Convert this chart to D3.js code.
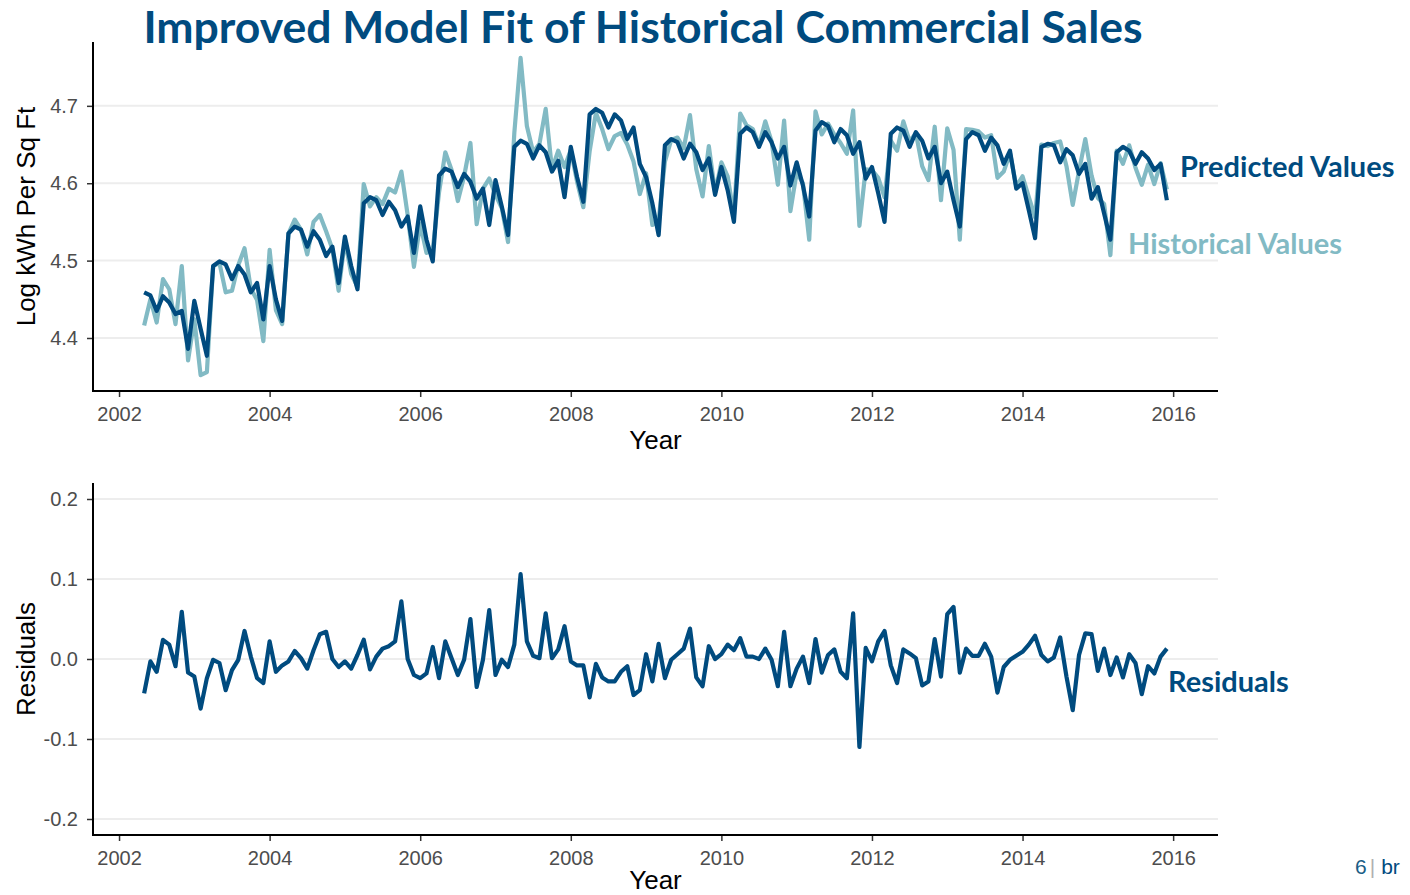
<!DOCTYPE html>
<meta charset="utf-8">
<style>
body{margin:0; background:#fff;}
svg text{font-family: "Liberation Sans", Arial, sans-serif;}
.tick text{fill:#4d4d4d; font-size:20px;}
.title, .lbl{font-family: Lato, "Open Sans", sans-serif; font-weight:bold;}
</style>
<svg id="chart" width="1410" height="895"></svg>
<script src="https://d3js.org/d3.v7.min.js"></script>
<script>
// monthly series, May 2002 .. Dec 2015
const historical = [
  4.416,4.450,4.420,4.476,4.463,4.418,4.493,4.371,            // 2002
  4.424,4.352,4.356,4.493,4.497,4.459,4.461,4.494,4.516,4.464,4.449,4.396, // 2003
  4.514,4.436,4.418,4.535,4.553,4.540,4.508,4.550,4.559,4.538,4.515,4.461, // 2004
  4.527,4.483,4.466,4.599,4.570,4.582,4.573,4.593,4.588,4.615,4.559,4.492, // 2005
  4.548,4.510,4.514,4.588,4.640,4.617,4.577,4.609,4.652,4.547,4.593,4.606, // 2006
  4.585,4.568,4.524,4.665,4.762,4.674,4.640,4.651,4.696,4.618,4.642,4.621, // 2007
  4.643,4.602,4.569,4.641,4.691,4.670,4.644,4.661,4.665,4.650,4.628,4.586, // 2008
  4.613,4.546,4.552,4.628,4.656,4.659,4.645,4.688,4.618,4.583,4.648,4.588, // 2009
  4.627,4.609,4.558,4.690,4.675,4.670,4.649,4.680,4.654,4.598,4.681,4.564, // 2010
  4.614,4.600,4.527,4.693,4.663,4.677,4.663,4.652,4.638,4.694,4.545,4.618, // 2011
  4.617,4.607,4.582,4.655,4.642,4.680,4.654,4.665,4.622,4.604,4.673,4.578, // 2012
  4.671,4.643,4.527,4.670,4.669,4.667,4.659,4.662,4.607,4.615,4.639,4.596, // 2013
  4.609,4.582,4.556,4.650,4.648,4.652,4.654,4.622,4.572,4.616,4.657,4.610, // 2014
  4.581,4.573,4.507,4.642,4.625,4.649,4.620,4.598,4.624,4.599,4.626,4.592  // 2015
]
const predicted = [
  4.459,4.455,4.435,4.454,4.446,4.431,4.435,4.386,
  4.448,4.412,4.377,4.493,4.499,4.495,4.476,4.493,4.482,4.459,4.471,4.424,
  4.493,4.450,4.422,4.535,4.544,4.540,4.518,4.538,4.527,4.506,4.518,4.471,
  4.531,4.493,4.463,4.574,4.582,4.578,4.559,4.576,4.565,4.544,4.557,4.510,
  4.570,4.527,4.499,4.610,4.619,4.615,4.595,4.612,4.602,4.580,4.593,4.546,
  4.604,4.570,4.533,4.647,4.655,4.651,4.632,4.649,4.640,4.615,4.629,4.582,
  4.647,4.608,4.576,4.689,4.696,4.691,4.672,4.689,4.681,4.657,4.672,4.625,
  4.608,4.574,4.533,4.649,4.657,4.653,4.632,4.651,4.640,4.617,4.632,4.585,
  4.621,4.591,4.550,4.664,4.672,4.666,4.647,4.666,4.653,4.632,4.647,4.597,
  4.627,4.597,4.557,4.668,4.679,4.674,4.653,4.670,4.662,4.638,4.653,4.606,
  4.621,4.587,4.550,4.664,4.672,4.668,4.647,4.666,4.655,4.632,4.647,4.600,
  4.615,4.578,4.544,4.657,4.666,4.662,4.642,4.659,4.649,4.625,4.642,4.593,
  4.600,4.565,4.529,4.647,4.651,4.649,4.627,4.644,4.636,4.612,4.625,4.580,
  4.595,4.561,4.527,4.640,4.647,4.642,4.625,4.640,4.632,4.617,4.625,4.578
]
const residuals = [
  -0.043,-0.003,-0.016,0.024,0.018,-0.009,0.059,-0.017,
  -0.022,-0.062,-0.024,-0.001,-0.005,-0.039,-0.014,-0.001,0.035,0.003,-0.024,-0.030,
  0.022,-0.016,-0.008,-0.003,0.010,0.001,-0.012,0.011,0.031,0.034,0.000,-0.010,
  -0.003,-0.012,0.005,0.024,-0.013,0.003,0.013,0.016,0.022,0.072,0.000,-0.020,
  -0.024,-0.018,0.015,-0.024,0.022,0.001,-0.020,-0.001,0.050,-0.035,-0.001,0.061,
  -0.020,-0.001,-0.010,0.018,0.106,0.022,0.004,0.001,0.057,0.001,0.012,0.041,
  -0.003,-0.008,-0.008,-0.048,-0.006,-0.023,-0.028,-0.028,-0.016,-0.009,-0.045,-0.039,
  0.006,-0.028,0.019,-0.024,-0.001,0.006,0.013,0.038,-0.023,-0.034,0.016,0.000,
  0.006,0.018,0.011,0.026,0.003,0.003,0.000,0.013,-0.001,-0.034,0.034,-0.034,
  -0.012,0.003,-0.030,0.025,-0.017,0.005,0.012,-0.016,-0.024,0.057,-0.110,0.014,
  -0.003,0.022,0.035,-0.008,-0.030,0.012,0.007,0.001,-0.033,-0.028,0.025,-0.022,
  0.056,0.065,-0.017,0.013,0.004,0.004,0.019,0.003,-0.042,-0.010,-0.001,0.004,
  0.009,0.018,0.029,0.005,-0.003,0.002,0.027,-0.022,-0.064,0.005,0.032,0.031,
  -0.015,0.013,-0.020,0.002,-0.023,0.006,-0.005,-0.044,-0.009,-0.018,0.003,0.013
]
const yearTicks = [2002, 2004, 2006, 2008, 2010, 2012, 2014, 2016]
const topTicks = [4.4, 4.5, 4.6, 4.7]
const resTicks = [-0.2, -0.1, 0.0, 0.1, 0.2]

const DARK = '#004b7f', LIGHT = '#82bac4'
const months = d3.timeMonth.range(new Date(2002, 4, 1), new Date(2016, 0, 1))
const yr = d => d.getFullYear() + d.getMonth() / 12
const fmt1 = d => d.toFixed(1)   // plain hyphen minus like the original

const svg = d3.select('#chart')
const L = 93, R = 1218

// ggplot-like 5% padding
function pad(ext, f = 0.05) {
  const d = (ext[1] - ext[0]) * f
  return [ext[0] - d, ext[1] + d]
}
const x = d3.scaleLinear().domain(pad(d3.extent(months, yr))).range([L, R])

function panel(top, bottom, y, ticks, yTitle, titleGap) {
  const g = svg.append('g')
  // horizontal grid
  g.selectAll('line.grid').data(ticks).join('line')
    .attr('x1', L).attr('x2', R)
    .attr('y1', d => y(d)).attr('y2', d => y(d))
    .attr('stroke', '#ededed').attr('stroke-width', 2)

  const xa = g.append('g').attr('transform', `translate(0,${bottom})`)
    .call(d3.axisBottom(x).tickValues(yearTicks).tickFormat(d3.format('d')).tickSize(6).tickPadding(10))
  const ya = g.append('g').attr('transform', `translate(${L},0)`)
    .call(d3.axisLeft(y).tickValues(ticks).tickFormat(fmt1).tickSize(6).tickPadding(9))
  for (const a of [xa, ya]) {
    a.select('.domain').remove()
    a.selectAll('.tick line').attr('stroke', '#333').attr('stroke-width', 1.5)
  }
  // axis lines (L shape)
  g.append('path').attr('d', `M${L},${top}V${bottom}H${R}`)
    .attr('fill', 'none').attr('stroke', '#000').attr('stroke-width', 2)

  g.append('text').attr('x', (L + R) / 2).attr('y', bottom + titleGap)
    .attr('text-anchor', 'middle').attr('font-size', 26).text('Year')
  g.append('text').attr('transform', `translate(35,${(top + bottom) / 2}) rotate(-90)`)
    .attr('text-anchor', 'middle').attr('font-size', 26).text(yTitle)
  return g
}

function drawLine(g, y, vals, color) {
  g.append('path').datum(vals)
    .attr('fill', 'none').attr('stroke', color).attr('stroke-width', 4.2)
    .attr('stroke-linejoin', 'round')
    .attr('d', d3.line().x((d, i) => x(yr(months[i]))).y(d => y(d)))
}

// top panel
const yTop = d3.scaleLinear().domain(pad(d3.extent(historical.concat(predicted)))).range([391, 42])
const gTop = panel(42, 391, yTop, topTicks, 'Log kWh Per Sq Ft', 58)
drawLine(gTop, yTop, historical, LIGHT)
drawLine(gTop, yTop, predicted, DARK)

// residual panel
const yRes = d3.scaleLinear().domain(pad([-0.2, 0.2])).range([835, 483])
const gRes = panel(483, 835, yRes, resTicks, 'Residuals', 54)
drawLine(gRes, yRes, residuals, DARK)

// labels
svg.append('text').attr('class', 'title').attr('x', 643).attr('y', 43)
  .attr('text-anchor', 'middle').attr('font-size', 44.5).attr('fill', DARK)
  .text('Improved Model Fit of Historical Commercial Sales')
svg.append('text').attr('class', 'lbl').attr('x', 1180).attr('y', 177)
  .attr('font-size', 29).attr('fill', DARK).text('Predicted Values')
svg.append('text').attr('class', 'lbl').attr('x', 1128).attr('y', 254)
  .attr('font-size', 29).attr('fill', LIGHT).text('Historical Values')
svg.append('text').attr('class', 'lbl').attr('x', 1168).attr('y', 692)
  .attr('font-size', 29).attr('fill', DARK).text('Residuals')

// page number footer
const foot = svg.append('text').attr('x', 1355).attr('y', 874).attr('font-size', 21)
  .attr('font-family', 'Lato, sans-serif')
foot.append('tspan').attr('fill', '#1b5e86').text('6')
foot.append('tspan').attr('fill', '#b0b0b0').attr('dx', 3).text('|')
foot.append('tspan').attr('fill', DARK).attr('dx', 6).text('br')
</script>
